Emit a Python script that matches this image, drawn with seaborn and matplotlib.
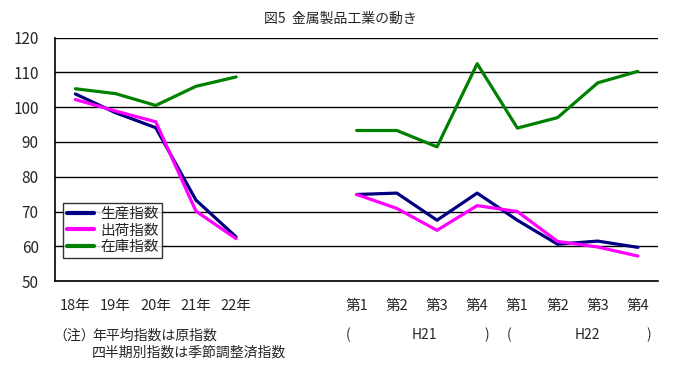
import pandas as pd
import matplotlib
matplotlib.use('Agg')
import matplotlib.pyplot as plt
import seaborn as sns

# カテゴリ（空白2つで年と四半期を区切る）
categorias = ['18年', '19年', '20年', '21年', '22年', '', '',
              '第1', '第2', '第3', '第4', '第1', '第2', '第3', '第4']
anual = ['18年', '19年', '20年', '21年', '22年']
trimestral_idx = [7, 8, 9, 10, 11, 12, 13, 14]

series = ['生産指数', '出荷指数', '在庫指数']
produccion_anual = [103.8, 98.4, 94.1, 73.3, 62.7]
envio_anual = [102.2, 98.9, 95.8, 70.1, 62.2]
inventario_anual = [105.3, 103.9, 100.5, 106.0, 108.7]
produccion_trim = [74.9, 75.3, 67.5, 75.3, 67.5, 60.6, 61.5, 59.7]
envio_trim = [74.9, 70.9, 64.6, 71.7, 70.0, 61.4, 59.8, 57.2]
inventario_trim = [93.3, 93.3, 88.6, 112.5, 94.0, 97.0, 107.0, 110.3]

colores = {'生産指数': '#000080', '出荷指数': '#ff00ff', '在庫指数': '#008000'}

""" armar el DataFrame largo """
filas = []
for nombre, va, vt in zip(series,
                          [produccion_anual, envio_anual, inventario_anual],
                          [produccion_trim, envio_trim, inventario_trim]):
    for i, v in enumerate(va):
        filas.append({'serie': nombre, 'pos': i, 'valor': v, 'tramo': 'anual'})
    for i, v in zip(trimestral_idx, vt):
        filas.append({'serie': nombre, 'pos': i, 'valor': v, 'tramo': 'trim'})
df = pd.DataFrame(filas)

sns.set_style('white')
plt.rcParams['font.family'] = ['Noto Sans CJK JP', 'DejaVu Sans']

fig = plt.figure(figsize=(7, 3.84), dpi=100)
ax = fig.add_axes([0.079, 0.268, 0.861, 0.634])

sns.lineplot(data=df, x='pos', y='valor', hue='serie', units='tramo',
             estimator=None, palette=colores, hue_order=series,
             linewidth=2.3, ax=ax)

ax.set_xlim(-0.5, len(categorias) - 0.5)
ax.set_ylim(50, 120)
ax.set_yticks(range(50, 121, 10))
ax.yaxis.grid(True, color='black', linewidth=1)
ax.set_axisbelow(True)
ax.set_xticks(range(len(categorias)))
ax.set_xticklabels(categorias, fontsize=10.5)
ax.set_xticks([k + 0.5 for k in range(len(categorias))], minor=True)
ax.tick_params(axis='x', which='major', length=0, pad=13)
ax.tick_params(axis='x', which='minor', length=6, direction='in', color='black', width=1)
ax.tick_params(axis='y', length=0, labelsize=11, pad=12)
ax.set_xlabel('')
ax.set_ylabel('')
for lado in ['top', 'right']:
    ax.spines[lado].set_visible(False)
for lado in ['left', 'bottom']:
    ax.spines[lado].set_color('black')
    ax.spines[lado].set_linewidth(1.2)

leg = ax.legend(loc='upper left', bbox_to_anchor=(63 / 700, 1 - 203 / 384),
                bbox_transform=fig.transFigure, borderaxespad=0, fontsize=10.5,
                frameon=True, fancybox=False, handlelength=1.9,
                handletextpad=0.4, labelspacing=0.2, borderpad=0.25)
leg.get_frame().set_edgecolor('black')
leg.get_frame().set_linewidth(1)
for linea in leg.get_lines():
    linea.set_linewidth(3)

def texto(x, y, s, **kw):
    fig.text(x / 700, 1 - y / 384, s, va='center', fontsize=10, **kw)

texto(340, 19, '図5  金属製品工業の動き', ha='center')
texto(53, 336, '（注）', ha='left')
texto(92, 336, '年平均指数は原指数', ha='left')
texto(92, 353, '四半期別指数は季節調整済指数', ha='left')
texto(348, 335, '(', ha='center')
texto(424, 335, 'H21', ha='center')
texto(487, 335, ')', ha='center')
texto(509, 335, '(', ha='center')
texto(587, 335, 'H22', ha='center')
texto(649, 335, ')', ha='center')

fig.savefig('out.png', dpi=100)
